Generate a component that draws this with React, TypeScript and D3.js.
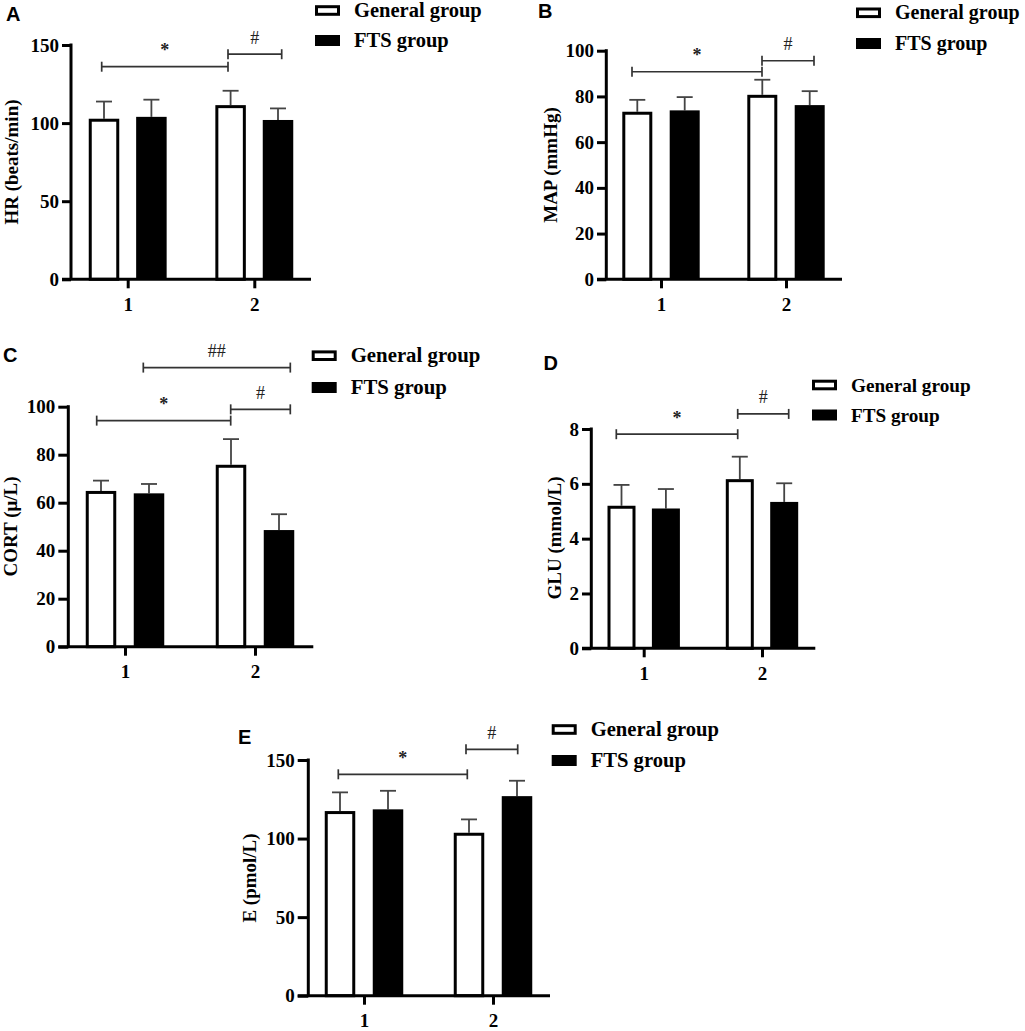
import React, { useEffect, useRef } from "react";
import * as d3 from "d3";

// ---------- data ----------
const categories = ["1", "2"];
const seriesNames = ["General group", "FTS group"];

// HR (beats/min)
const hrGeneral = [102.8, 111.5];
const hrGeneralSd = [11.0, 9.2];
const hrFts = [104.0, 102.0];
const hrFtsSd = [11.0, 7.4];

// MAP (mmHg)
const mapGeneral = [73.3, 80.7];
const mapGeneralSd = [5.2, 6.6];
const mapFts = [73.9, 76.2];
const mapFtsSd = [5.8, 6.1];

// CORT (μ/L)
const cortGeneral = [64.9, 75.8];
const cortGeneralSd = [4.3, 10.7];
const cortFts = [63.9, 48.6];
const cortFtsSd = [3.9, 6.6];

// GLU (mmol/L)
const gluGeneral = [5.2, 6.17];
const gluGeneralSd = [0.76, 0.82];
const gluFts = [5.1, 5.34];
const gluFtsSd = [0.71, 0.68];

// E (pmol/L)
const eGeneral = [117.5, 103.7];
const eGeneralSd = [11.9, 8.5];
const eFts = [118.6, 127.0];
const eFtsSd = [11.8, 9.8];

const hrTicks = [0, 50, 100, 150];
const mapTicks = [0, 20, 40, 60, 80, 100];
const cortTicks = [0, 20, 40, 60, 80, 100];
const gluTicks = [0, 2, 4, 6, 8];
const eTicks = [0, 50, 100, 150];

// significance annotations: [catIdx, seriesIdx] endpoints, level in data units
const hrSig = [
  { label: "*", from: [0, 0], to: [1, 0], level: 136.1, dx: [-2.3, -2.6] },
  { label: "#", from: [1, 0], to: [1, 1], level: 144.1, dx: [-2.6, 3.7] },
];
const mapSig = [
  { label: "*", from: [0, 0], to: [1, 0], level: 90.8, dx: [-5.3, -0.3] },
  { label: "#", from: [1, 0], to: [1, 1], level: 95.6, dx: [-0.3, 4.3] },
];
const cortSig = [
  { label: "*", from: [0, 0], to: [1, 0], level: 94.2, dx: [-4.3, -0.3] },
  { label: "#", from: [1, 0], to: [1, 1], level: 98.9, dx: [-0.3, 11.3] },
  { label: "##", from: [0, 1], to: [1, 1], level: 116.3, dx: [-5.7, 11.3] },
];
const gluSig = [
  { label: "*", from: [0, 0], to: [1, 0], level: 7.81, dx: [-5.2, -2.1] },
  { label: "#", from: [1, 0], to: [1, 1], level: 8.55, dx: [-2.1, 4.5] },
];
const eSig = [
  { label: "*", from: [0, 0], to: [1, 0], level: 140.9, dx: [-1.7, -1.7] },
  { label: "#", from: [1, 0], to: [1, 1], level: 156.8, dx: [-3, 0.7] },
];

// ---------- layout ----------
const panels = [
  {
    letter: "A", letterPos: [6, 20.7], title: "HR (beats/min)", titlePos: [18, 162],
    means: [hrGeneral, hrFts], sds: [hrGeneralSd, hrFtsSd], ticks: hrTicks, sig: hrSig,
    axisX: 71, xL: 62, xR: 311, yBottom: 279.3, yTop: 45, centers: [127.7, 254.3], off: 23.7, barW: 30.5,
    legend: [315, 10.5], legendGap: 30, legendFont: 20.5,
  },
  {
    letter: "B", letterPos: [538, 18], title: "MAP (mmHg)", titlePos: [557, 165],
    means: [mapGeneral, mapFts], sds: [mapGeneralSd, mapFtsSd], ticks: mapTicks, sig: mapSig,
    axisX: 606.3, xL: 597, xR: 842, yBottom: 279.3, yTop: 50.7, centers: [661, 786], off: 23.7, barW: 30,
    legend: [856, 12.8], legendGap: 30.7, legendFont: 20,
  },
  {
    letter: "C", letterPos: [3, 361.7], title: "CORT (μ/L)", titlePos: [16.5, 526.5],
    means: [cortGeneral, cortFts], sds: [cortGeneralSd, cortFtsSd], ticks: cortTicks, sig: cortSig,
    axisX: 68.3, xL: 58.3, xR: 313.3, yBottom: 646.7, yTop: 406.7, centers: [125, 255], off: 24, barW: 30.5,
    legend: [311.7, 355.7], legendGap: 31.8, legendFont: 20.8,
  },
  {
    letter: "D", letterPos: [543.5, 370], title: "GLU (mmol/L)", titlePos: [561, 538],
    means: [gluGeneral, gluFts], sds: [gluGeneralSd, gluFtsSd], ticks: gluTicks, sig: gluSig,
    axisX: 591.3, xL: 582, xR: 815.3, yBottom: 648.3, yTop: 429, centers: [643.7, 762], off: 22.2, barW: 28,
    legend: [812, 385], legendGap: 30, legendFont: 19.2,
  },
  {
    letter: "E", letterPos: [238, 744.3], title: "E (pmol/L)", titlePos: [256, 878],
    means: [eGeneral, eFts], sds: [eGeneralSd, eFtsSd], ticks: eTicks, sig: eSig,
    axisX: 308.3, xL: 297.7, xR: 550, yBottom: 995.7, yTop: 760, centers: [364, 493], off: 24, barW: 30.5,
    legend: [551.7, 729.5], legendGap: 31, legendFont: 20.6,
  },
];

const SERIF = "'Liberation Serif', 'Times New Roman', serif";
const SANS = "'Liberation Sans', Arial, sans-serif";

export default function App() {
  const ref = useRef<SVGSVGElement | null>(null);

  useEffect(() => {
    const svg = d3.select(ref.current);
    svg.selectAll("*").remove();

    panels.forEach((p) => {
      const g = svg.append("g");
      const yMax = p.ticks[p.ticks.length - 1];
      const y = d3.scaleLinear().domain([0, yMax]).range([p.yBottom, p.yTop]);
      const x = d3.scalePoint<string>().domain(categories).range(p.centers as [number, number]);
      const L = 2 * p.off + p.barW;
      const sub = d3
        .scaleBand<string>()
        .domain(seriesNames)
        .range([-L / 2, L / 2])
        .paddingInner(1 - p.barW / (2 * p.off))
        .paddingOuter(0);
      const barCenter = (c: number, s: number) =>
        (x(categories[c]) as number) + (sub(seriesNames[s]) as number) + sub.bandwidth() / 2;

      // bars
      seriesNames.forEach((sn, si) => {
        categories.forEach((cat, ci) => {
          const v = p.means[si][ci];
          const left = (x(cat) as number) + (sub(sn) as number);
          const w = sub.bandwidth();
          const sd = p.sds[si][ci];
          // error bar (upper only)
          const cx = left + w / 2;
          g.append("line")
            .attr("x1", cx).attr("x2", cx)
            .attr("y1", y(v)).attr("y2", y(v + sd))
            .attr("stroke", "#444").attr("stroke-width", 1.8);
          g.append("line")
            .attr("x1", cx - 8).attr("x2", cx + 8)
            .attr("y1", y(v + sd)).attr("y2", y(v + sd))
            .attr("stroke", "#444").attr("stroke-width", 1.8);
          if (si === 0) {
            g.append("rect")
              .attr("x", left + 1.5).attr("width", w - 3)
              .attr("y", y(v) + 1.5).attr("height", y(0) - y(v) - 1.5)
              .attr("fill", "#fff").attr("stroke", "#000").attr("stroke-width", 3);
          } else {
            g.append("rect")
              .attr("x", left).attr("width", w)
              .attr("y", y(v)).attr("height", y(0) - y(v))
              .attr("fill", "#000");
          }
        });
      });

      // y axis
      const yAxis = d3.axisLeft(y).tickValues(p.ticks).tickSize(p.axisX - p.xL).tickPadding(3).tickFormat(d3.format("d"));
      const ya = g.append("g").attr("transform", `translate(${p.axisX},0)`).call(yAxis);
      ya.select(".domain").remove();
      ya.selectAll(".tick line").attr("stroke", "#000").attr("stroke-width", 3);
      ya.selectAll(".tick text")
        .attr("font-family", SERIF).attr("font-weight", "bold").attr("font-size", 19).attr("fill", "#000");
      g.append("line")
        .attr("x1", p.axisX).attr("x2", p.axisX)
        .attr("y1", p.yTop - 1.5).attr("y2", p.yBottom)
        .attr("stroke", "#000").attr("stroke-width", 3);

      // x axis
      const xAxis = d3.axisBottom(x).tickSize(9).tickPadding(9);
      const xa = g.append("g").attr("transform", `translate(0,${p.yBottom})`).call(xAxis);
      xa.select(".domain").remove();
      xa.selectAll(".tick line").attr("stroke", "#000").attr("stroke-width", 3);
      xa.selectAll(".tick text")
        .attr("font-family", SERIF).attr("font-weight", "bold").attr("font-size", 19).attr("fill", "#000");
      g.append("line")
        .attr("x1", p.xL).attr("x2", p.xR)
        .attr("y1", p.yBottom).attr("y2", p.yBottom)
        .attr("stroke", "#000").attr("stroke-width", 3);

      // significance brackets
      p.sig.forEach((s) => {
        const x1 = barCenter(s.from[0], s.from[1]) + s.dx[0];
        const x2 = barCenter(s.to[0], s.to[1]) + s.dx[1];
        const yy = y(s.level);
        g.append("line").attr("x1", x1).attr("x2", x2).attr("y1", yy).attr("y2", yy)
          .attr("stroke", "#333").attr("stroke-width", 1.7);
        [x1, x2].forEach((xx) =>
          g.append("line").attr("x1", xx).attr("x2", xx).attr("y1", yy - 5).attr("y2", yy + 5)
            .attr("stroke", "#333").attr("stroke-width", 1.7)
        );
        g.append("text")
          .attr("x", (x1 + x2) / 2).attr("y", yy - 10.5)
          .attr("text-anchor", "middle")
          .attr("font-family", SERIF)
          .attr("font-weight", s.label === "*" ? "bold" : "normal")
          .attr("font-size", 18).attr("fill", "#222")
          .text(s.label);
      });

      // y title
      g.append("text")
        .attr("transform", `translate(${p.titlePos[0]},${p.titlePos[1]}) rotate(-90)`)
        .attr("text-anchor", "middle")
        .attr("font-family", SERIF).attr("font-weight", "bold").attr("font-size", 19).attr("fill", "#000")
        .text(p.title);

      // panel letter
      g.append("text")
        .attr("x", p.letterPos[0]).attr("y", p.letterPos[1])
        .attr("font-family", SANS).attr("font-weight", "bold").attr("font-size", 20).attr("fill", "#000")
        .text(p.letter);

      // legend
      seriesNames.forEach((sn, si) => {
        const cy = p.legend[1] + si * p.legendGap;
        if (si === 0) {
          g.append("rect").attr("x", p.legend[0] + 1.5).attr("y", cy - 3.8).attr("width", 22).attr("height", 7.6)
            .attr("fill", "#fff").attr("stroke", "#000").attr("stroke-width", 3);
        } else {
          g.append("rect").attr("x", p.legend[0]).attr("y", cy - 5.5).attr("width", 25).attr("height", 11)
            .attr("fill", "#000");
        }
        g.append("text")
          .attr("x", p.legend[0] + 39).attr("y", cy + 6.5)
          .attr("font-family", SERIF).attr("font-weight", "bold").attr("font-size", p.legendFont).attr("fill", "#000")
          .text(sn);
      });
    });
  }, []);

  return (
    <svg
      ref={ref}
      width={1025}
      height={1031}
      style={{ position: "absolute", left: 0, top: 0, background: "#fff" }}
    />
  );
}
